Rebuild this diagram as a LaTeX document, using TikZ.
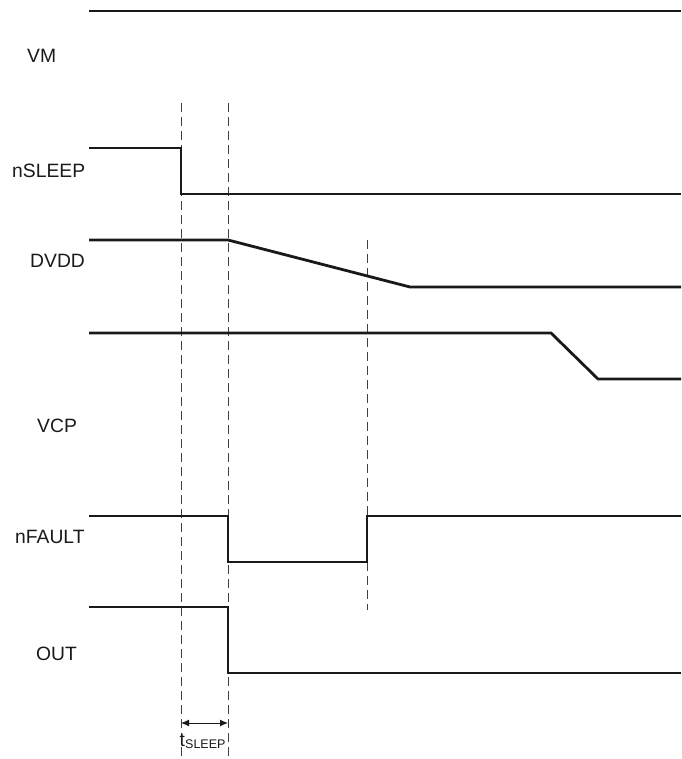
\documentclass[tikz,border=0pt]{standalone}
\usepackage{fontspec}
\setmainfont{Liberation Sans}
\usetikzlibrary{arrows.meta}
\begin{document}
\begin{tikzpicture}[x=1pt,y=-1pt,
  sig/.style={line width=2.8pt,line join=miter,black!90},
  guide/.style={line width=0.9pt,dash pattern=on 9pt off 5pt,black!75},
  lbl/.style={font=\fontsize{19.3}{22}\selectfont,anchor=base west,inner sep=0pt,text=black!90}]
\useasboundingbox (0,0) rectangle (681,759);
% guides
\coordinate (g1t) at (181,103); \coordinate (g1b) at (181,759);
\coordinate (g2t) at (228,103); \coordinate (g2b) at (228,759);
\coordinate (g3t) at (367,240); \coordinate (g3b) at (367,610);
\draw[guide] (g1t) -- (g1b);
\draw[guide] (g2t) -- (g2b);
\draw[guide] (g3t) -- (g3b);
% signals
\draw[sig] (89,11) -- (681,11);
\draw[sig] (89,148) -- (181,148) -- (181,194) -- (681,194);
\draw[sig] (89,240) -- (228,240) -- (410,287) -- (681,287);
\draw[sig] (89,333) -- (551,333) -- (598,379) -- (681,379);
\draw[sig] (89,516) -- (228,516) -- (228,562) -- (367,562) -- (367,516) -- (681,516);
\draw[sig] (89,607) -- (228,607) -- (228,673) -- (681,673);
% labels
\node[lbl] (vm) at (27,63) {VM};
\node[lbl] (ns) at (12,178) {nSLEEP};
\node[lbl] (dv) at (30,267) {DVDD};
\node[lbl] (vcp) at (37,432) {VCP};
\node[lbl] (nf) at (15,543) {nFAULT};
\node[lbl] (out) at (36,660) {OUT};
% tSLEEP
\coordinate (a1) at (181,723); \coordinate (a2) at (228,723);
\draw[line width=1pt,black!90,{Latex[length=8pt,width=7pt]}-{Latex[length=8pt,width=7pt]}] (a1) -- (a2);
\node[lbl] (ts) at (179.5,746) {t};
\node[font=\fontsize{12.5}{14}\selectfont,anchor=base west,inner sep=0pt,text=black!90] (tss) at (185,748) {SLEEP};
\end{tikzpicture}
\end{document}
